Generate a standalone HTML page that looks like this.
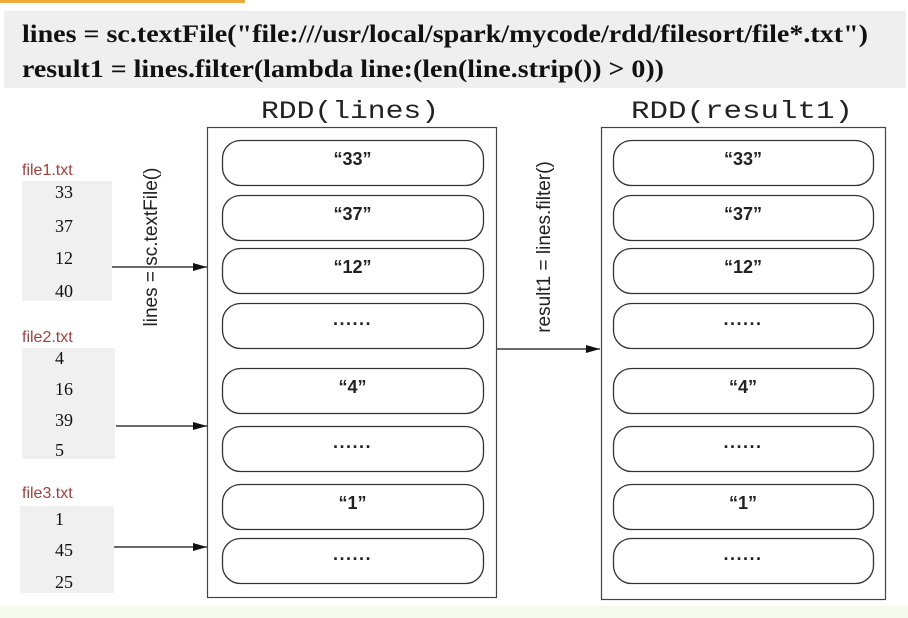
<!DOCTYPE html>
<html><head><meta charset="utf-8"><style>
html,body{margin:0;padding:0;background:#fff;}
svg{display:block;}
</style></head><body>
<svg width="908" height="618" viewBox="0 0 908 618" xmlns="http://www.w3.org/2000/svg">
<defs><marker id="ah" markerWidth="14" markerHeight="8" refX="14" refY="4" orient="auto" markerUnits="userSpaceOnUse"><path d="M0,0 L14,4 L0,8 Z" fill="#111"/></marker></defs>
<rect x="0" y="0" width="245" height="3" fill="#f2a93b"/>
<rect x="4" y="11" width="902" height="77" fill="#efefef"/>
<g font-family="Liberation Serif, serif" font-weight="bold" font-size="25" fill="#111">
<text x="22" y="42" textLength="846" lengthAdjust="spacingAndGlyphs">lines = sc.textFile("file:///usr/local/spark/mycode/rdd/filesort/file*.txt")</text>
<text x="22" y="77" textLength="642" lengthAdjust="spacingAndGlyphs">result1 = lines.filter(lambda line:(len(line.strip()) &gt; 0))</text>
</g>
<g font-family="Liberation Mono, monospace" font-size="25" fill="#222">
<text x="350" y="118" text-anchor="middle" textLength="178" lengthAdjust="spacingAndGlyphs">RDD(lines)</text>
<text x="742" y="118" text-anchor="middle" textLength="222" lengthAdjust="spacingAndGlyphs">RDD(result1)</text>
</g>
<rect x="207.5" y="127.5" width="289" height="470" fill="none" stroke="#444" stroke-width="1.2"/>
<rect x="601.5" y="127.5" width="284" height="472" fill="none" stroke="#444" stroke-width="1.2"/>
<g id="pills"></g>
<g font-family="Liberation Sans, sans-serif" font-size="16" fill="#a0413f">
<text x="22" y="175">file1.txt</text>
<text x="22" y="342">file2.txt</text>
<text x="22" y="498">file3.txt</text>
</g>
<rect x="22" y="181" width="90" height="120" fill="#f0f0f0"/>
<rect x="22" y="348" width="93" height="111" fill="#f0f0f0"/>
<rect x="20" y="506" width="94" height="87" fill="#f0f0f0"/>
<g font-family="Liberation Serif, serif" font-size="18" fill="#111">
<text x="55" y="198">33</text><text x="55" y="232">37</text><text x="55" y="264">12</text><text x="55" y="297">40</text>
<text x="55" y="364">4</text><text x="55" y="395">16</text><text x="55" y="426">39</text><text x="55" y="456">5</text>
<text x="55" y="525">1</text><text x="55" y="556">45</text><text x="55" y="588">25</text>
</g>
<g stroke="#111" stroke-width="1.2" marker-end="url(#ah)">
<line x1="112" y1="267" x2="207" y2="267"/>
<line x1="116" y1="426" x2="207" y2="426"/>
<line x1="114" y1="547" x2="207" y2="547"/>
<line x1="497" y1="349" x2="600" y2="349"/>
</g>
<g font-family="Liberation Sans, sans-serif" font-size="19" fill="#222">
<text transform="translate(157,247) rotate(-90)" text-anchor="middle">lines = sc.textFile()</text>
<text transform="translate(550,247) rotate(-90)" text-anchor="middle">result1 = lines.filter()</text>
</g>
<rect x="0" y="606" width="908" height="12" fill="#f7faee"/>
</svg>
<script>
const pillLabels = ['“33”','“37”','“12”','……','“4”','……','“1”','……'];
const pillTops = [140,195,248,303,368,426,484,538];
const g = document.getElementById('pills');
const NS = 'http://www.w3.org/2000/svg';
[[222,261],[613,260]].forEach(([x,w])=>{
  pillLabels.forEach((lab,i)=>{
    const r = document.createElementNS(NS,'rect');
    r.setAttribute('x',x+0.5);r.setAttribute('y',pillTops[i]+0.5);
    r.setAttribute('width',w);r.setAttribute('height',45);
    r.setAttribute('rx',18);r.setAttribute('fill','#fff');
    r.setAttribute('stroke','#333');r.setAttribute('stroke-width','1.3');
    
    
    g.appendChild(r);
    const t = document.createElementNS(NS,'text');
    const dots = lab==='……';
    t.setAttribute('x',x+w/2);t.setAttribute('y',pillTops[i]+(dots?27:25));
    t.setAttribute('text-anchor','middle');
    t.setAttribute('font-family','Liberation Sans, sans-serif');
    t.setAttribute('font-size','18');t.setAttribute('fill','#222');
    t.setAttribute('font-weight','bold');
    t.textContent = dots ? '······' : lab;
    if(dots){t.setAttribute('letter-spacing','0.5');}
    
    
    g.appendChild(t);
  });
});
</script>
</body></html>
